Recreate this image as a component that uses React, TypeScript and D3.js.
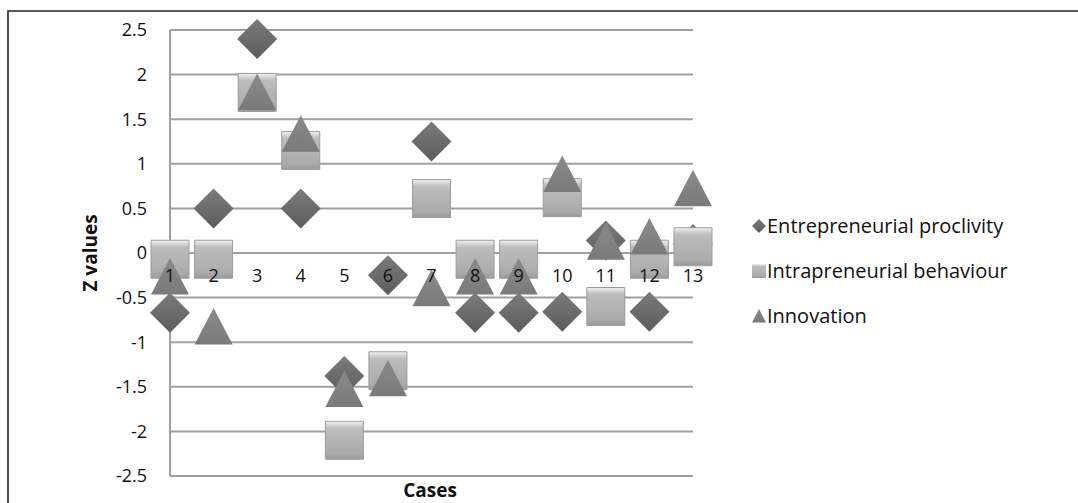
import React from "react";
import * as d3 from "d3";

// cases on the x axis
const cases = [1, 2, 3, 4, 5, 6, 7, 8, 9, 10, 11, 12, 13];

// z values
const entrepreneurial = [-0.67, 0.5, 2.4, 0.5, -1.38, -0.25, 1.25, -0.67, -0.67, -0.66, 0.14, -0.66, 0.1];
const intrapreneurial = [-0.07, -0.07, 1.8, 1.15, -2.1, -1.32, 0.61, -0.07, -0.07, 0.62, -0.6, -0.07, 0.07];
const innovation = [-0.27, -0.83, 1.8, 1.33, -1.53, -1.41, -0.4, -0.27, -0.27, 0.88, 0.12, 0.18, 0.72];

const yTicks = [2.5, 2, 1.5, 1, 0.5, 0, -0.5, -1, -1.5, -2, -2.5];
const legendLabels = ["Entrepreneurial proclivity", "Intrapreneurial behaviour", "Innovation"];

const width = 1078;
const height = 503;
const font = "'Open Sans', 'Liberation Sans', sans-serif";

const x = d3.scaleLinear().domain([1, 13]).range([170, 693]);
const y = d3.scaleLinear().domain([-2.5, 2.5]).range([476, 30]);

const diamond = (s: number) => `M0,${-s}L${s},0L0,${s}L${-s},0Z`;
const square = (s: number) => `M${-s},${-s}H${s}V${s}H${-s}Z`;
const triangle = (s: number) => `M0,${-s}L${s},${s * 0.92}H${-s}Z`;

type Marker = { shape: (s: number) => string; fill: string; size: number };

const markers: Marker[] = [
  { shape: diamond, fill: "url(#gDia)", size: 20 },
  { shape: square, fill: "url(#gSq)", size: 19 },
  { shape: triangle, fill: "url(#gTri)", size: 19 },
];

const series = [entrepreneurial, intrapreneurial, innovation];

export default function App() {
  React.useEffect(() => {
    document.body.style.margin = "0";
  }, []);

  return (
    <svg width={width} height={height} style={{ display: "block", background: "#fff" }}>
      <defs>
        <linearGradient id="gDia" x1="0" y1="0" x2="0" y2="1">
          <stop offset="0" stopColor="#7a7a7a" />
          <stop offset="0.5" stopColor="#6c6c6c" />
          <stop offset="1" stopColor="#5c5c5c" />
        </linearGradient>
        <linearGradient id="gSq" x1="0" y1="0" x2="0" y2="1">
          <stop offset="0" stopColor="#f2f2f2" />
          <stop offset="0.18" stopColor="#bdbdbd" />
          <stop offset="0.85" stopColor="#ababab" />
          <stop offset="1" stopColor="#9a9a9a" />
        </linearGradient>
        <linearGradient id="gTri" x1="0" y1="0" x2="0" y2="1">
          <stop offset="0" stopColor="#8a8a8a" />
          <stop offset="1" stopColor="#7a7a7a" />
        </linearGradient>
      </defs>

      {/* frame */}
      <path d={`M8,${height}V11H${width}`} fill="none" stroke="#222" strokeWidth={1.6} />

      {/* gridlines */}
      {yTicks.map((t) => (
        <line key={t} x1={x(1)} x2={x(13)} y1={y(t)} y2={y(t)} stroke="#a0a0a0" strokeWidth={2} />
      ))}
      <line x1={x(1)} x2={x(1)} y1={y(2.5)} y2={y(-2.5)} stroke="#a0a0a0" strokeWidth={2} />

      {/* y tick labels */}
      {yTicks.map((t) => (
        <text key={t} x={147} y={y(t)} dy="0.35em" textAnchor="end" fontFamily={font} fontSize={18} fill="#111">
          {t}
        </text>
      ))}

      {/* markers */}
      {series.map((vals, si) => (
        <g key={si}>
          {vals.map((v, i) => (
            <path
              key={i}
              d={markers[si].shape(markers[si].size)}
              transform={`translate(${x(cases[i])},${y(v)})`}
              fill={markers[si].fill}
              stroke={si === 1 ? "#9c9c9c" : "none"}
              strokeWidth={1}
            />
          ))}
        </g>
      ))}

      {/* x tick labels */}
      {cases.map((c) => (
        <text key={c} x={x(c)} y={y(-0.25)} dy="0.35em" textAnchor="middle" fontFamily={font} fontSize={18} fill="#111">
          {c}
        </text>
      ))}

      {/* axis titles */}
      <text
        transform={`translate(90,${y(0)}) rotate(-90)`}
        textAnchor="middle"
        dy="0.35em"
        fontFamily={font}
        fontSize={19}
        fontWeight="bold"
        fill="#111"
      >
        Z values
      </text>
      <text x={430} y={497} textAnchor="middle" fontFamily={font} fontSize={19} fontWeight="bold" fill="#111">
        Cases
      </text>

      {/* legend */}
      {legendLabels.map((l, i) => (
        <g key={l} transform={`translate(0,${226 + i * 45})`}>
          <path d={markers[i].shape(7)} transform="translate(759,0)" fill={markers[i].fill} />
          <text x={767} dy="0.35em" fontFamily={font} fontSize={20} fill="#111">
            {l}
          </text>
        </g>
      ))}
    </svg>
  );
}
